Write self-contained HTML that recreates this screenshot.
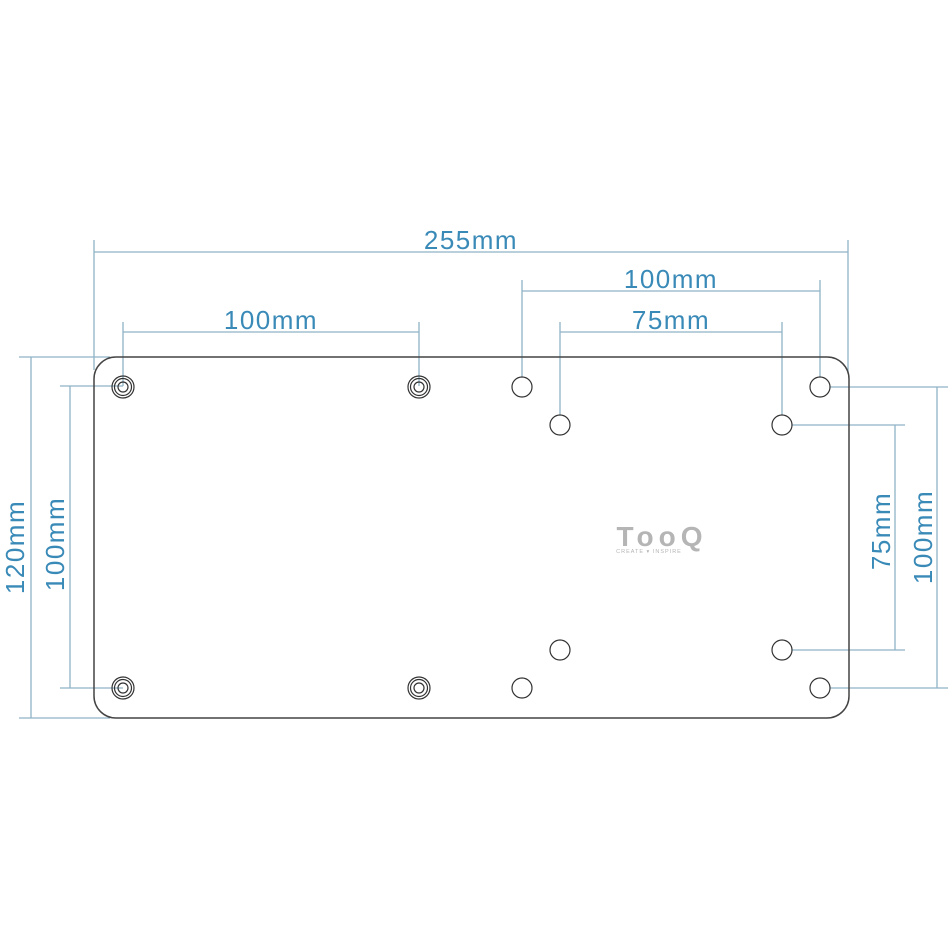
<!DOCTYPE html>
<html><head><style>body{margin:0;background:#fff}svg{display:block}</style></head><body>
<svg width="950" height="950" viewBox="0 0 950 950" xmlns="http://www.w3.org/2000/svg">
<g stroke="#8fb3c6" stroke-width="1.3" fill="none">
<line x1="94" y1="240" x2="94" y2="370"/><line x1="848" y1="240" x2="848" y2="372"/><line x1="94" y1="252" x2="848" y2="252"/>
<line x1="123" y1="322" x2="123" y2="386"/><line x1="419" y1="322" x2="419" y2="386"/><line x1="123" y1="332" x2="419" y2="332"/>
<line x1="522" y1="280" x2="522" y2="386"/><line x1="820" y1="280" x2="820" y2="386"/><line x1="522" y1="291" x2="820" y2="291"/>
<line x1="560" y1="322" x2="560" y2="424"/><line x1="782" y1="322" x2="782" y2="424"/><line x1="560" y1="332" x2="782" y2="332"/>
<line x1="19" y1="357" x2="110" y2="357"/><line x1="19" y1="718" x2="110" y2="718"/><line x1="31" y1="357" x2="31" y2="718"/>
<line x1="60" y1="386" x2="123" y2="386"/><line x1="60" y1="688" x2="123" y2="688"/><line x1="70" y1="386" x2="70" y2="688"/>
<line x1="820" y1="387" x2="948" y2="387"/><line x1="820" y1="688" x2="948" y2="688"/><line x1="937" y1="387" x2="937" y2="688"/>
<line x1="782" y1="425" x2="905" y2="425"/><line x1="782" y1="650" x2="905" y2="650"/><line x1="895" y1="425" x2="895" y2="650"/>
</g>
<rect x="94" y="357" width="755" height="361" rx="22" fill="none" stroke="#444" stroke-width="1.5"/>
<g fill="#fff" stroke="#333" stroke-width="1.2">
<circle cx="522" cy="387" r="10"/><circle cx="820" cy="387" r="10"/><circle cx="560" cy="425" r="10"/><circle cx="782" cy="425" r="10"/>
<circle cx="560" cy="650" r="10"/><circle cx="782" cy="650" r="10"/><circle cx="522" cy="688" r="10"/><circle cx="820" cy="688" r="10"/>
</g>
<g fill="none" stroke="#333" stroke-width="1.2">
<g transform="translate(123,387)"><circle r="11"/><circle r="8.5"/><circle r="5"/></g>
<g transform="translate(419,387)"><circle r="11"/><circle r="8.5"/><circle r="5"/></g>
<g transform="translate(123,688)"><circle r="11"/><circle r="8.5"/><circle r="5"/></g>
<g transform="translate(419,688)"><circle r="11"/><circle r="8.5"/><circle r="5"/></g>
</g>
<g font-family="Liberation Sans, sans-serif" font-size="26" fill="#3a8ab8" text-anchor="middle" letter-spacing="1.5">
<text x="471" y="249">255mm</text>
<text x="271" y="329">100mm</text>
<text x="671" y="288">100mm</text>
<text x="671" y="329">75mm</text>
<text transform="translate(24,547) rotate(-90)">120mm</text>
<text transform="translate(64,544) rotate(-90)">100mm</text>
<text transform="translate(890,531) rotate(-90)">75mm</text>
<text transform="translate(932,537) rotate(-90)">100mm</text>
</g>
<text x="662" y="546" font-family="Liberation Sans, sans-serif" font-size="28" font-weight="bold" fill="#b5b5b5" text-anchor="middle" letter-spacing="5">TooQ</text>
<text x="649" y="553" font-family="Liberation Sans, sans-serif" font-size="5.5" fill="#b5b5b5" text-anchor="middle" letter-spacing="1">CREATE ▾ INSPIRE</text>
</svg>
</body></html>
